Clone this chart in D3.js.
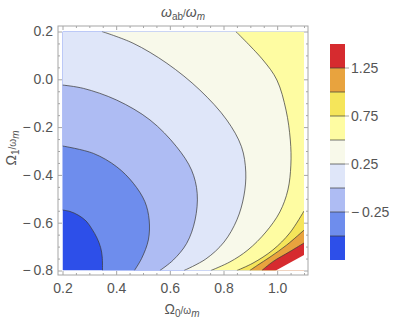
<!DOCTYPE html>
<html><head><meta charset="utf-8">
<script src="https://cdn.jsdelivr.net/npm/d3@7"></script>
<style>body{margin:0;background:#fff}svg{display:block}text{font-family:"Liberation Sans",Arial,sans-serif}</style>
</head><body><svg id="c" width="395" height="323"></svg>
<script>
// ---- data ----
const xTicks = [0.2, 0.4, 0.6, 0.8, 1.0];
const yTicks = [-0.8, -0.6, -0.4, -0.2, 0.0, 0.2];
const levels = [-0.5, -0.25, 0, 0.25, 0.5, 0.75, 1.0, 1.25];
const barLevels = [-0.75, -0.5, -0.25, 0, 0.25, 0.5, 0.75, 1.0, 1.25, 1.5];
const barTicks = [1.25, 0.75, 0.25, -0.25];
const bandColors = ["#2d4fe9", "#6e8ded", "#aebcf3", "#dfe6f9", "#f8f9ea", "#fefca2", "#f5e55a", "#e8a33e", "#d62b2f"];
// contour lines [Omega0, Omega1]
const cM050 = [[0.2,-0.547],[0.228,-0.553],[0.258,-0.568],[0.288,-0.593],[0.310,-0.627],[0.329,-0.665],[0.342,-0.704],[0.348,-0.743],[0.349,-0.8]];
const cM025 = [[0.2,-0.279],[0.315,-0.310],[0.402,-0.366],[0.464,-0.435],[0.507,-0.512],[0.523,-0.589],[0.520,-0.672],[0.495,-0.749],[0.468,-0.8]];
const c000 = [[0.2,-0.024],[0.278,-0.038],[0.402,-0.087],[0.526,-0.170],[0.625,-0.282],[0.681,-0.380],[0.702,-0.477],[0.694,-0.589],[0.663,-0.686],[0.613,-0.756],[0.563,-0.8]];
const c025 = [[0.347,0.2],[0.463,0.151],[0.589,0.067],[0.712,-0.045],[0.812,-0.170],[0.867,-0.282],[0.883,-0.388],[0.876,-0.488],[0.850,-0.588],[0.802,-0.681],[0.734,-0.752],[0.653,-0.8]];
const c050 = [[0.846,0.2],[0.947,0.081],[0.999,-0.003],[1.033,-0.129],[1.049,-0.254],[1.051,-0.359],[1.040,-0.463],[1.010,-0.555],[0.958,-0.639],[0.891,-0.714],[0.824,-0.764],[0.753,-0.8]];
const c075 = [[1.1,-0.551],[1.047,-0.643],[0.984,-0.714],[0.910,-0.769],[0.850,-0.8]];
const c100 = [[1.1,-0.631],[1.036,-0.693],[0.973,-0.744],[0.928,-0.777],[0.898,-0.8]];
const c125 = [[1.1,-0.685],[1.047,-0.721],[0.984,-0.763],[0.943,-0.8]];
const contourLines = [cM050, cM025, c000, c025, c050, c075, c100, c125];
const undefinedEdge = [[0.995,-0.8],[1.1,-0.735]];

// ---- scales ----
const svg = d3.select("#c");
const x = d3.scaleLinear().domain([0.2, 1.1]).range([62.5, 304]);
const y = d3.scaleLinear().domain([-0.8, 0.2]).range([270.5, 31.5]);
const [x0, x1] = x.domain(), [y0, y1] = y.domain();
const frame = {l: 58, r: 308, t: 26, b: 275};

svg.append("defs").append("clipPath").attr("id", "pc").append("rect")
  .attr("x", x(x0)).attr("y", y(y1)).attr("width", x(x1) - x(x0)).attr("height", y(y0) - y(y1));

const line = d3.line().x(d => x(d[0])).y(d => y(d[1])).curve(d3.curveCatmullRom.alpha(0.5));
const plot = svg.append("g").attr("clip-path", "url(#pc)");
plot.append("rect").attr("x", x(x0)).attr("y", y(y1)).attr("width", x(x1) - x(x0)).attr("height", y(y0) - y(y1)).attr("fill", bandColors[0]);

const cornersAll = [[x1, y0], [x1, y1], [x0, y1]];
contourLines.forEach((c, i) => {
  const s = c[0];
  const nC = s[0] === x0 ? 3 : (s[1] === y1 ? 2 : 1);
  const corners = cornersAll.slice(0, nC);
  const d = line(c) + corners.map(p => `L${x(p[0])},${y(p[1])}`).join("") + "Z";
  plot.append("path").attr("d", d).attr("fill", bandColors[i + 1]);
});
// undefined region (white)
plot.append("path")
  .attr("d", d3.line().x(d => x(d[0])).y(d => y(d[1]))(undefinedEdge.concat([[x1 + 0.05, y0 + 0.065], [x1 + 0.05, y0 - 0.05], [undefinedEdge[0][0] - 0.02, y0 - 0.05]])) + "Z")
  .attr("fill", "#fff");
contourLines.forEach(c => {
  plot.append("path").attr("d", line(c)).attr("fill", "none").attr("stroke", "#3a3a3a").attr("stroke-opacity", 0.72).attr("stroke-width", 1);
});

// ---- frame ----
const axCol = "#a6a6a6", txtCol = "#555";
const FS = "14px";
svg.append("rect").attr("x", frame.l).attr("y", frame.t).attr("width", frame.r - frame.l).attr("height", frame.b - frame.t)
  .attr("fill", "none").attr("stroke", axCol).attr("stroke-width", 1);
const xMinor = d3.range(0.2, 1.1001, 0.05).filter(v => Math.abs(v * 5 - Math.round(v * 5)) > 1e-6);
const yMinor = d3.range(-0.8, 0.2001, 0.05).filter(v => Math.abs(v * 5 - Math.round(v * 5)) > 1e-6);
const signed = f => v => (v < 0 ? "\u2212\u2009" : "") + f(Math.abs(v));
const fmt1 = signed(d3.format(".1f"));
function styleAxis(g) {
  g.select(".domain").remove();
  g.selectAll(".tick line").attr("stroke", axCol);
  g.selectAll(".tick text").attr("fill", txtCol).style("font-size", FS).style("font-family", '"Liberation Sans", Arial, sans-serif');
}
svg.append("g").attr("transform", `translate(0,${frame.b})`).call(d3.axisBottom(x).tickValues(xTicks).tickFormat(fmt1).tickSize(-4).tickPadding(8)).call(styleAxis);
svg.append("g").attr("transform", `translate(0,${frame.b})`).call(d3.axisBottom(x).tickValues(xMinor).tickFormat("").tickSize(-2)).call(styleAxis);
svg.append("g").attr("transform", `translate(0,${frame.t})`).call(d3.axisTop(x).tickValues(xTicks).tickFormat("").tickSize(-4)).call(styleAxis);
svg.append("g").attr("transform", `translate(0,${frame.t})`).call(d3.axisTop(x).tickValues(xMinor).tickFormat("").tickSize(-2)).call(styleAxis);
svg.append("g").attr("transform", `translate(${frame.l},0)`).call(d3.axisLeft(y).tickValues(yTicks).tickFormat(fmt1).tickSize(-4).tickPadding(5)).call(styleAxis);
svg.append("g").attr("transform", `translate(${frame.l},0)`).call(d3.axisLeft(y).tickValues(yMinor).tickFormat("").tickSize(-2)).call(styleAxis);
svg.append("g").attr("transform", `translate(${frame.r},0)`).call(d3.axisRight(y).tickValues(yTicks).tickFormat("").tickSize(-4)).call(styleAxis);
svg.append("g").attr("transform", `translate(${frame.r},0)`).call(d3.axisRight(y).tickValues(yMinor).tickFormat("").tickSize(-2)).call(styleAxis);

// ---- labels ----
function label(g, parts) {
  parts.forEach(p => {
    const t = g.append("tspan").text(p.t);
    if (p.sub) t.attr("dy", p.sub).style("font-size", "10px");
    if (p.it) t.style("font-style", "italic");
  });
}
const title = svg.append("text").attr("x", 183).attr("y", 17).attr("text-anchor", "middle").attr("fill", txtCol).style("font-size", FS);
label(title, [{t: "ω", it: true}, {t: "ab", sub: 3}, {t: "/", sub: -3}, {t: "ω", it: true}, {t: "m", sub: 3, it: true}]);
const xl = svg.append("text").attr("x", 182).attr("y", 314).attr("text-anchor", "middle").attr("fill", txtCol).style("font-size", FS);
label(xl, [{t: "Ω"}, {t: "0", sub: 3}, {t: "/ω", sub: -3}, {t: "m", sub: 3, it: true}]);
const yl = svg.append("text").attr("transform", "translate(16,148) rotate(-90)").attr("text-anchor", "middle").attr("fill", txtCol).style("font-size", FS);
label(yl, [{t: "Ω"}, {t: "1", sub: 3}, {t: "/ω", sub: -3}, {t: "m", sub: 3, it: true}]);

// ---- colour bar ----
const cb = d3.scaleLinear().domain([barLevels[0], barLevels[barLevels.length - 1]]).range([260, 44]);
const cbx = 330, cbw = 15;
const cg = svg.append("g");
bandColors.forEach((c, i) => {
  cg.append("rect").attr("x", cbx).attr("y", cb(barLevels[i + 1])).attr("width", cbw).attr("height", cb(barLevels[i]) - cb(barLevels[i + 1])).attr("fill", c);
});
barLevels.slice(1, -1).forEach(v => {
  cg.append("line").attr("x1", cbx).attr("x2", cbx + cbw).attr("y1", cb(v)).attr("y2", cb(v)).attr("stroke", "#3a3a3a").attr("stroke-opacity", 0.7);
});
const fmt2 = signed(d3.format(".2f"));
barTicks.forEach(v => {
  cg.append("line").attr("x1", cbx + cbw).attr("x2", cbx + cbw + 4).attr("y1", cb(v)).attr("y2", cb(v)).attr("stroke", axCol);
  cg.append("text").attr("x", cbx + cbw + 6).attr("y", cb(v)).attr("dy", "0.35em").attr("fill", txtCol).style("font-size", FS).text(fmt2(v));
});
</script></body></html>
